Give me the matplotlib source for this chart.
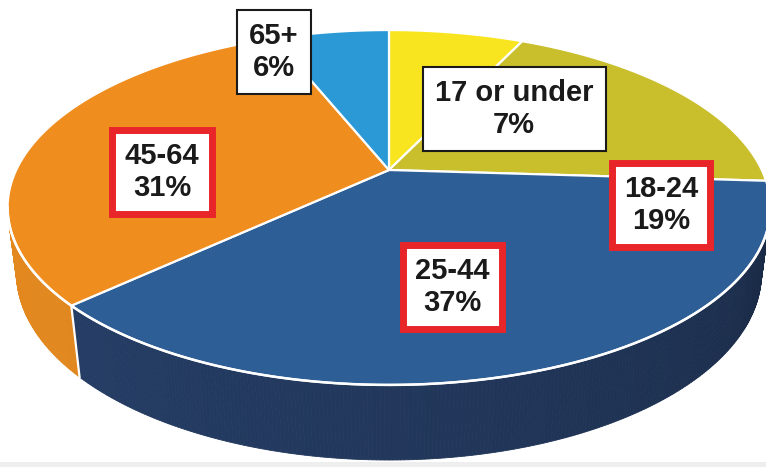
import numpy as np
import matplotlib.pyplot as plt
from matplotlib.patches import Polygon

# ================================
# Data
# ================================
labels = ["17 or under", "18-24", "25-44", "45-64", "65+"]
shares = [7, 19, 37, 31, 6]
top_colors = ["#F9E51F", "#C9BE2B", "#2E5E96", "#EF8D1E", "#2A99D6"]
side_colors = ["#D8C41A", "#A89E22", "#27406A", "#E2881F", "#2380B8"]
red_box = [False, True, True, True, False]

# label box centres (pixels)
label_xy = [(514, 109), (661, 205), (452, 287), (162, 172), (274, 52)]

# ================================
# Projection parameters (pixels)
# ================================
W, Hpx = 766, 467
cx, cy = 389, 170        # apex of the pie
fx, fy = 1562, 1521
D = 4.19
sph, cph = 0.467, 0.885
thick = 0.205


def proj(theta, r=1.0, h=0.0):
    th = np.radians(theta)
    u = r * np.sin(th)
    v = r * np.cos(th)
    depth = D + v * cph - h * sph
    x = cx + fx * u / depth
    y = cy - fy * (v * sph + h * cph) / depth
    return x, y


# silhouette angles of the rim (front half is visible)
tt = np.linspace(0, 360, 3601)
xs, _ = proj(tt)
th_right = tt[np.argmax(xs)]
th_left = tt[np.argmin(xs)]

fig = plt.figure(figsize=(W / 100, Hpx / 100), dpi=100)
ax = fig.add_axes([0, 0, 1, 1])
ax.set_xlim(0, W)
ax.set_ylim(Hpx, 0)
ax.axis("off")

# faint grey strip at the very bottom of the photo
ax.axhspan(462, Hpx, color="#EEEEEE", lw=0)

bounds = np.concatenate([[0], np.cumsum(shares)]) / sum(shares) * 360

# ---- sides ----
for i in range(len(shares)):
    a0 = max(bounds[i], th_right)
    a1 = min(bounds[i + 1], th_left)
    if a1 <= a0:
        continue
    angs = np.linspace(a0, a1, max(int((a1 - a0) * 2), 2))
    base = np.array(plt.matplotlib.colors.to_rgb(side_colors[i]))
    for j in range(len(angs) - 1):
        t0, t1 = angs[j], angs[j + 1]
        # darker towards the right
        s = 0.6 + 0.4 * ((t0 - th_right) / (th_left - th_right)) ** 0.6
        if i == 3:
            s = 0.92 + 0.08 * s
        col = np.clip(base * s, 0, 1)
        p = [proj(t0), proj(t1), proj(t1, h=-thick), proj(t0, h=-thick)]
        ax.add_patch(Polygon(p, closed=True, fc=col, ec=col, lw=0.6))
    # white edge between side segments
    if th_right < bounds[i + 1] < th_left:
        x0, y0 = proj(bounds[i + 1])
        x1, y1 = proj(bounds[i + 1], h=-thick)
        ax.plot([x0, x1], [y0, y1], color="white", lw=1.6)

# ---- top faces ----
for i in range(len(shares)):
    angs = np.linspace(bounds[i], bounds[i + 1], 200)
    px, py = proj(angs)
    pts = [(cx, cy)] + list(zip(px, py))
    ax.add_patch(Polygon(pts, closed=True, fc=top_colors[i], ec="white",
                         lw=1.6, joinstyle="round"))

# white rim along the front top edge
angs = np.linspace(th_right, th_left, 400)
px, py = proj(angs)
ax.plot(px, py, color="white", lw=1.8)

# ---- labels ----
for i in range(len(shares)):
    ec = "#E8262A" if red_box[i] else "#1a1a1a"
    lw = 5 if red_box[i] else 1.5
    ax.text(label_xy[i][0], label_xy[i][1], f"{labels[i]}\n{shares[i]}%",
            ha="center", va="center", fontsize=21, fontweight="bold",
            family=["Liberation Sans", "DejaVu Sans"], color="#1a1a1a",
            linespacing=1.15,
            bbox=dict(boxstyle="square,pad=0.42", fc="white", ec=ec, lw=lw))

plt.savefig("out.png", dpi=100)
